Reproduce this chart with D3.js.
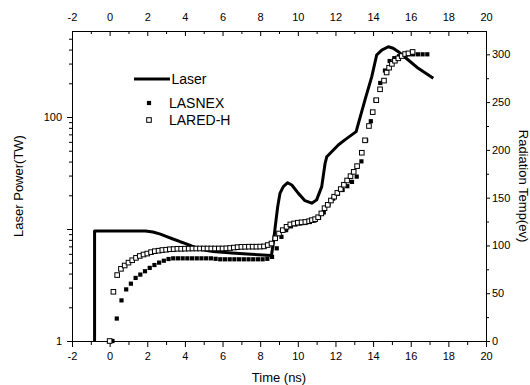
<!DOCTYPE html>
<html>
<head>
<meta charset="utf-8">
<script src="https://cdn.jsdelivr.net/npm/d3@7"></script>
<style>
  body { margin: 0; background: #fff; }
  svg { display: block; }
  text { font-family: "Liberation Sans", Arial, sans-serif; }
</style>
</head>
<body>
<div id="chart"></div>
<script>
// laser pulse (left log axis)
const laserTime = [-0.8, -0.8, 1.9, 2.3, 2.7, 3.0, 3.4, 3.75, 4.0, 4.35, 4.8, 5.5, 6.5, 7.5, 8.6, 8.72, 8.8, 8.93, 9.05,
  9.23, 9.46, 9.68, 10.03, 10.38, 10.74, 11.0, 11.27, 11.45, 11.54, 11.8, 12.15, 12.5, 13.1, 13.22, 13.57, 13.93,
  14.19, 14.46, 14.81, 15.07, 15.34, 15.87, 16.4, 17.2];
const laserPower = [1, 9.6, 9.6, 9.4, 9.0, 8.6, 8.1, 7.7, 7.45, 7.05, 6.6, 6.3, 6.1, 5.95, 5.8, 8.0, 10.5, 15.8, 20.8,
  23.9, 25.9, 24.7, 20.8, 17.9, 17.0, 18.2, 23.9, 38.6, 44.2, 49, 56.2, 62.5, 74, 87.9, 142, 229,
  358, 396, 424, 411, 383, 323, 272, 222];

// LASNEX radiation temperature (right axis)
const lasnexTime = [0.15, 0.38, 0.63, 0.88, 1.13, 1.38, 1.63, 1.88, 2.13, 2.38, 2.63, 2.88, 3.13, 3.38, 3.63, 3.88,
  4.13, 4.38, 4.63, 4.88, 5.13, 5.38, 5.63, 5.88, 6.13, 6.38, 6.63, 6.88, 7.13, 7.38, 7.63, 7.88, 8.13, 8.38,
  8.63, 8.88, 9.13, 9.38, 9.63, 9.88, 10.13, 10.38, 10.63, 10.88, 11.13, 11.38, 11.63, 11.88, 12.13, 12.38,
  12.63, 12.88, 13.13, 13.38, 13.63, 13.88, 14.13, 14.38, 14.63, 14.88, 15.13, 15.38, 15.63, 15.88, 16.13,
  16.38, 16.63, 16.88];
const lasnexTemp = [0, 23.5, 42.5, 54, 60, 66, 69.5, 73, 76.5, 79.5, 82, 84, 85.8, 86.5, 86.5, 86.5,
  86.5, 86.5, 86.5, 86.5, 86.5, 86.5, 86, 85.5, 85.5, 85.5, 85.5, 85.5, 85.5, 85.5, 85.5, 85.5, 85.5, 86,
  88, 97, 109, 116, 120, 122, 123, 123.5, 124.5, 126, 129, 134.5, 143, 149, 154, 158,
  162, 166.5, 172, 188, 210, 230, 252, 270, 283, 293, 296, 298, 299, 300, 300,
  300, 300, 300];

// LARED-H radiation temperature (right axis)
const laredTime = [0, 0.2, 0.4, 0.6, 0.8, 1.0, 1.2, 1.4, 1.6, 1.8, 2.0, 2.2, 2.4, 2.6, 2.8, 3.0, 3.2, 3.4, 3.6, 3.8,
  4.0, 4.2, 4.4, 4.6, 4.8, 5.0, 5.2, 5.4, 5.6, 5.8, 6.0, 6.2, 6.4, 6.6, 6.8, 7.0, 7.2, 7.4, 7.6, 7.8, 8.0, 8.2,
  8.4, 8.6, 8.8, 9.0, 9.2, 9.4, 9.6, 9.8, 10.0, 10.2, 10.4, 10.6, 10.75, 10.92, 11.08, 11.25, 11.42, 11.59,
  11.76, 11.93, 12.1, 12.28, 12.45, 12.62, 12.8, 12.97, 13.15, 13.4, 13.57, 13.78, 13.98, 14.17, 14.37, 14.58,
  14.72, 14.85, 15.0, 15.16, 15.34, 15.52, 15.7, 15.88, 16.1];
const laredTemp = [0, 51.5, 69, 75.5, 79, 82, 84.5, 87, 89, 90.5, 91.5, 93, 94, 94.5, 95.2, 95.5, 96, 96.2, 96.5, 96.5,
  96.6, 96.7, 96.8, 96.8, 96.8, 96.8, 96.8, 96.8, 96.8, 96.8, 96.8, 97, 97.3, 97.8, 98.2, 98.5, 98.6, 98.7, 98.7, 98.7, 98.8, 99,
  100.4, 102, 107.5, 112.5, 116, 119.5, 122, 123, 123.8, 124.2, 124.6, 125.4, 126.5, 127.5, 129.5, 133.5, 139, 142.5,
  147, 151, 155, 159, 163.5, 168, 172.5, 177, 183, 197, 210, 225, 239.5, 252, 263.4, 272.5,
  281, 286, 290, 293.3, 295.8, 298.2, 300.3, 301, 302.5];

// ticks
const xTicks = [-2, 0, 2, 4, 6, 8, 10, 12, 14, 16, 18, 20];
const xMinorTicks = [-1, 1, 3, 5, 7, 9, 11, 13, 15, 17, 19];
const powerTicks = [1, 10, 100];
const powerTickLabels = ["1", "", "100"];
const powerMinorTicks = [2, 3, 4, 5, 6, 7, 8, 9, 20, 30, 40, 50, 60, 70, 80, 90, 200, 300, 400, 500];
const tempTicks = [0, 50, 100, 150, 200, 250, 300];
const tempMinorTicks = [25, 75, 125, 175, 225, 275];

const width = 530, height = 385;
const margin = { top: 31, right: 44, bottom: 44, left: 72 };
const plotBottom = height - margin.bottom;
const plotRight = width - margin.right;

const svg = d3.select("#chart")
              .append("svg")
              .attr("width", width)
              .attr("height", height);

const x = d3.scaleLinear().domain([-2, 20]).range([margin.left, plotRight]);
const yPower = d3.scaleLog().domain([1, 586]).range([plotBottom, margin.top]);
const yTemp = d3.scaleLinear().domain([0, 324.4]).range([plotBottom, margin.top]);

// plain hyphen for negatives, like the original
const xFormat = d => String(d);

const styleAxis = g => g.attr("font-size", 11)
                        .call(g => g.selectAll("text").attr("fill", "#000"))
                        .call(g => g.selectAll("line,path").attr("stroke", "#000"));

// bottom
svg.append("g")
   .attr("transform", `translate(0,${plotBottom})`)
   .call(d3.axisBottom(x).tickValues(xTicks).tickFormat(xFormat).tickSize(6).tickPadding(5).tickSizeOuter(0))
   .call(styleAxis);
svg.append("g")
   .attr("transform", `translate(0,${plotBottom})`)
   .call(d3.axisBottom(x).tickValues(xMinorTicks).tickSize(4).tickFormat(""))
   .call(g => g.select(".domain").remove())
   .call(styleAxis);

// top
svg.append("g")
   .attr("transform", `translate(0,${margin.top})`)
   .call(d3.axisTop(x).tickValues(xTicks).tickFormat(xFormat).tickSizeInner(-5).tickSizeOuter(0).tickPadding(10))
   .call(styleAxis);
svg.append("g")
   .attr("transform", `translate(0,${margin.top})`)
   .call(d3.axisTop(x).tickValues(xMinorTicks).tickSize(-3).tickFormat(""))
   .call(g => g.select(".domain").remove())
   .call(styleAxis);

// left (log)
svg.append("g")
   .attr("transform", `translate(${margin.left},0)`)
   .call(d3.axisLeft(yPower).tickValues(powerTicks).tickFormat((d, i) => powerTickLabels[i])
           .tickSize(5).tickPadding(5).tickSizeOuter(0))
   .call(styleAxis);
svg.append("g")
   .attr("transform", `translate(${margin.left},0)`)
   .call(d3.axisLeft(yPower).tickValues(powerMinorTicks).tickSize(3).tickFormat(""))
   .call(g => g.select(".domain").remove())
   .call(styleAxis);

// right
svg.append("g")
   .attr("transform", `translate(${plotRight},0)`)
   .call(d3.axisRight(yTemp).tickValues(tempTicks).tickSize(4).tickPadding(2).tickSizeOuter(0))
   .call(styleAxis);
svg.append("g")
   .attr("transform", `translate(${plotRight},0)`)
   .call(d3.axisRight(yTemp).tickValues(tempMinorTicks).tickSize(3).tickFormat(""))
   .call(g => g.select(".domain").remove())
   .call(styleAxis);

// titles
svg.append("text")
   .attr("x", (margin.left + plotRight) / 2)
   .attr("y", 382)
   .attr("text-anchor", "middle")
   .attr("font-size", 13)
   .text("Time (ns)");

svg.append("text")
   .attr("transform", `translate(23,${(margin.top + plotBottom) / 2}) rotate(-90)`)
   .attr("text-anchor", "middle")
   .attr("font-size", 13)
   .text("Laser Power(TW)");

svg.append("text")
   .attr("transform", `translate(519,${(margin.top + plotBottom) / 2}) rotate(90)`)
   .attr("text-anchor", "middle")
   .attr("font-size", 13)
   .text("Radiation Temp(ev)");

// laser line
const laser = laserTime.map((t, i) => ({ t, p: laserPower[i] }));
svg.append("path")
   .datum(laser)
   .attr("fill", "none")
   .attr("stroke", "#000")
   .attr("stroke-width", 3)
   .attr("stroke-linejoin", "round")
   .attr("d", d3.line().x(d => x(d.t)).y(d => yPower(d.p)));

// LASNEX filled squares
const sq = 4.2;
svg.append("g")
   .selectAll("rect")
   .data(lasnexTime.map((t, i) => ({ t, v: lasnexTemp[i] })))
   .join("rect")
   .attr("x", d => x(d.t) - sq / 2)
   .attr("y", d => yTemp(d.v) - sq / 2)
   .attr("width", sq)
   .attr("height", sq)
   .attr("fill", "#000");

// LARED-H open squares
const osq = 4.6;
svg.append("g")
   .selectAll("rect")
   .data(laredTime.map((t, i) => ({ t, v: laredTemp[i] })))
   .join("rect")
   .attr("x", d => x(d.t) - osq / 2)
   .attr("y", d => yTemp(d.v) - osq / 2)
   .attr("width", osq)
   .attr("height", osq)
   .attr("fill", "#fff")
   .attr("stroke", "#000")
   .attr("stroke-width", 1);

// legend
const legend = svg.append("g").attr("font-size", 14);
legend.append("line")
      .attr("x1", 134).attr("x2", 170)
      .attr("y1", 79).attr("y2", 79)
      .attr("stroke", "#000").attr("stroke-width", 3);
legend.append("text").attr("x", 171.5).attr("y", 79).attr("dy", "0.35em").text("Laser");
legend.append("rect")
      .attr("x", 149 - sq / 2).attr("y", 103 - sq / 2)
      .attr("width", sq).attr("height", sq).attr("fill", "#000");
legend.append("text").attr("x", 169).attr("y", 103).attr("dy", "0.35em").text("LASNEX");
legend.append("rect")
      .attr("x", 149 - osq / 2).attr("y", 120 - osq / 2)
      .attr("width", osq).attr("height", osq)
      .attr("fill", "#fff").attr("stroke", "#000");
legend.append("text").attr("x", 169).attr("y", 120).attr("dy", "0.35em").text("LARED-H");
</script>
</body>
</html>
